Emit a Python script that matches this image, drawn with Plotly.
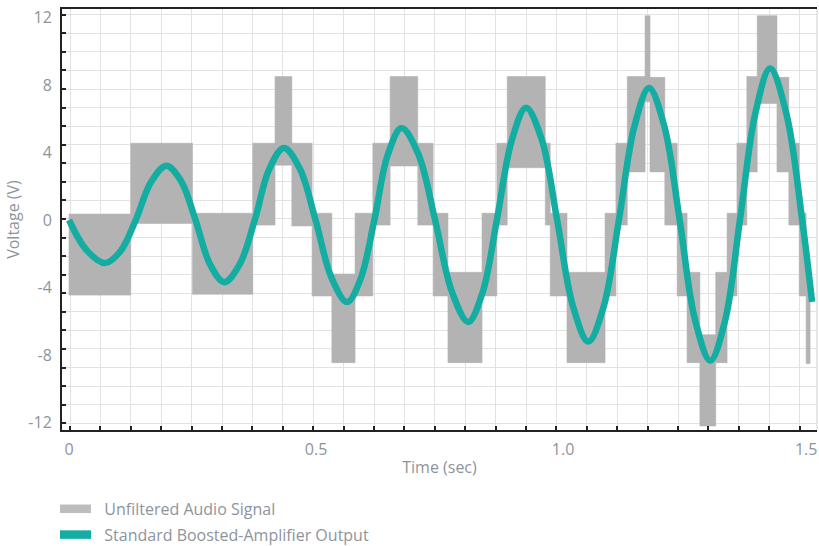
import plotly.graph_objects as go

# ---- Standard Boosted-Amplifier Output ----
time_s = [0.000, 0.036, 0.073, 0.104, 0.135, 0.166, 0.197, 0.227, 0.256, 0.285,
          0.314, 0.345, 0.376, 0.405, 0.435, 0.467, 0.499, 0.531, 0.563, 0.590,
          0.618, 0.645, 0.673, 0.707, 0.741, 0.775, 0.808, 0.837, 0.866, 0.896,
          0.925, 0.957, 0.988, 1.020, 1.051, 1.082, 1.113, 1.144, 1.174, 1.205,
          1.236, 1.267, 1.298, 1.328, 1.358, 1.389, 1.419, 1.452, 1.484, 1.504]
voltage = [0.0, -1.8, -2.55, -1.85, 0.0, 2.25, 3.22, 2.3, 0.0, -2.6,
           -3.68, -2.65, 0.0, 3.0, 4.27, 3.05, 0.0, -3.4, -4.86, -3.5,
           0.0, 3.85, 5.45, 3.9, 0.0, -4.25, -6.04, -4.3, 0.0, 4.7,
           6.65, 4.75, 0.0, -5.1, -7.2, -5.15, 0.0, 5.5, 7.82, 5.55,
           0.0, -5.9, -8.33, -5.95, 0.0, 6.3, 8.97, 6.3, 0.0, -4.85]

# ---- Unfiltered Audio Signal: envelope of each burst (start, end, top, bottom) ----
band_start = [0.000, 0.125, 0.250, 0.372, 0.417, 0.451, 0.492, 0.532, 0.579, 0.615,
              0.650, 0.706, 0.737, 0.767, 0.836, 0.866, 0.887, 0.964, 0.974, 1.008,
              1.085, 1.107, 1.130, 1.166, 1.176, 1.206, 1.231, 1.251, 1.277, 1.309,
              1.332, 1.352, 1.372, 1.393, 1.433, 1.457, 1.478, 1.492]
band_end = [0.125, 0.250, 0.372, 0.417, 0.451, 0.492, 0.532, 0.579, 0.615, 0.650,
            0.706, 0.737, 0.767, 0.836, 0.866, 0.887, 0.964, 0.974, 1.008, 1.085,
            1.107, 1.130, 1.166, 1.176, 1.206, 1.231, 1.251, 1.277, 1.309, 1.332,
            1.352, 1.372, 1.393, 1.433, 1.457, 1.478, 1.492, 1.500]
band_top = [0.35, 4.55, 0.40, 4.55, 8.5, 4.55, 0.40, -3.2, 0.40, 4.55,
            8.5, 4.55, 0.40, -3.1, 0.40, 4.55, 8.5, 4.55, 0.40, -3.1,
            0.40, 4.55, 8.5, 12.1, 8.45, 4.55, 0.40, -3.1, -6.8, -3.1,
            0.40, 4.55, 8.5, 12.1, 8.45, 4.55, 0.40, -3.1]
band_bottom = [-4.45, -0.2, -4.4, -0.3, 3.25, -0.35, -4.5, -8.45, -4.5, -0.3,
               3.2, -0.3, -4.5, -8.45, -4.5, -0.3, 3.1, -0.3, -4.5, -8.45,
               -4.5, -0.3, 2.85, 7.0, 2.85, -0.3, -4.5, -8.45, -12.2, -8.45,
               -4.5, -0.3, 2.85, 6.9, 2.85, -0.3, -4.5, -8.5]

# the last label is nudged a hair left so it stays inside the window
x_tick_vals = [0, 0.5, 1.0, 1.492]
x_tick_text = ["0", "0.5", "1.0", "1.5"]
y_tick_vals = [-12, -8, -4, 0, 4, 8, 12]
y_tick_text = ["-12", "-8", "-4", "0", "4", "8", "12"]

GRAY = "#B3B3B3"
TEAL = "#13ADA2"
TXT = "#8E949C"
FONT = "Open Sans"
GAP = "\u00a0\u00a0"

bx, by = [], []
for s, e, t, b in zip(band_start, band_end, band_top, band_bottom):
    bx += [s, e, e, s, s, None]
    by += [t, t, b, b, t, None]

fig = go.Figure()
fig.add_trace(go.Scatter(x=bx, y=by, mode="lines", fill="toself", fillcolor=GRAY,
                         line=dict(color=GRAY, width=0.6), showlegend=False,
                         hoverinfo="skip"))
fig.add_trace(go.Scatter(x=time_s, y=voltage, mode="lines",
                         line=dict(color=TEAL, width=6.5, shape="spline", smoothing=1),
                         showlegend=False))
fig.add_trace(go.Scatter(x=[None], y=[None], mode="lines", legendgroup="a",
                         line=dict(color="#BDBDBD", width=8.5),
                         name=GAP + "Unfiltered Audio Signal"))
fig.add_trace(go.Scatter(x=[None], y=[None], mode="lines", legendgroup="b",
                         line=dict(color=TEAL, width=8.5),
                         name=GAP + "Standard Boosted-Amplifier Output"))

fig.update_layout(
    width=819, height=546,
    margin=dict(l=62, r=2, t=9, b=116, autoexpand=False),
    paper_bgcolor="white", plot_bgcolor="white",
    font=dict(family=FONT, color=TXT, size=16),
    legend=dict(orientation="v", x=-0.0093, xanchor="left", y=-0.147, yanchor="top",
                font=dict(size=16, color=TXT), itemwidth=31, tracegroupgap=2,
                bgcolor="rgba(0,0,0,0)"),
    xaxis=dict(range=[-0.0142, 1.514], tickvals=x_tick_vals, ticktext=x_tick_text,
               ticks="", showgrid=False, zeroline=False, automargin=False,
               showline=True, linecolor="#222222", linewidth=2, mirror=True,
               tickfont=dict(size=16, color=TXT), ticklabelstandoff=4,
               ticklabeloverflow="allow",
               title=dict(text="Time (sec)", font=dict(size=16, color=TXT), standoff=3),
               minor=dict(tick0=0.002, dtick=0.06154, showgrid=True,
                          gridcolor="#E2E2E2", gridwidth=1,
                          ticks="inside", ticklen=4, tickcolor="#222222", tickwidth=1.5)),
    yaxis=dict(range=[-12.44, 12.5], tickvals=y_tick_vals, ticktext=y_tick_text,
               ticks="", showgrid=False, zeroline=False, automargin=False,
               showline=True, linecolor="#222222", linewidth=2,
               tickfont=dict(size=16, color=TXT), ticklabelstandoff=5,
               ticklabeloverflow="allow",
               title=dict(text="Voltage (V)", font=dict(size=16, color=TXT), standoff=5),
               minor=dict(tick0=0.06, dtick=1.1, showgrid=True,
                          gridcolor="#E2E2E2", gridwidth=1,
                          ticks="inside", ticklen=4, tickcolor="#222222", tickwidth=1.5)),
    shapes=[dict(type="line", xref="paper", yref="paper", x0=1, x1=1, y0=0, y1=1,
                 line=dict(color="#CFCFCF", width=1))],
)

fig.write_html("out.html", config={"displayModeBar": False},
               post_script="document.body.style.margin='0';"
                           "document.body.style.overflow='hidden';")
